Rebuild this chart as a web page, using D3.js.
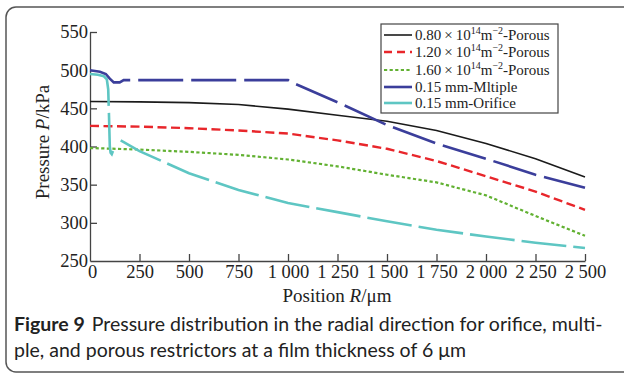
<!DOCTYPE html>
<html>
<head>
<meta charset="utf-8">
<script src="https://cdn.jsdelivr.net/npm/d3@7"></script>
<title>Figure 9</title>
<style>
body { margin: 0; background: #fff; }
text { font-family: "Liberation Serif", "Times New Roman", serif; fill: #222; }
.caption { font-family: Lato, "Noto Sans", sans-serif; font-size: 19.5px; fill: #222; }
</style>
</head>
<body>
<script>

// data: [position R (um), pressure P (kPa)]
var porous080 = [[0,459],[250,458.5],[500,457.5],[750,455],[1000,449],[1250,441],[1500,433],[1750,421],[2000,404],[2250,384],[2500,360]];
var porous120 = [[0,427],[250,426],[500,424],[750,421],[1000,417],[1250,408],[1500,397],[1750,381],[2000,361],[2250,341],[2500,317]];
var porous160 = [[0,398],[250,396],[500,393],[750,389],[1000,383],[1250,374],[1500,363],[1750,353],[2000,336],[2250,309],[2500,283]];
var multiple  = [[0,500],[50,498],[80,495],[100,489],[120,484],[150,484],[170,487],[1000,487],[1010,485],[1250,458],[1500,428],[1750,404],[2000,384],[2250,363],[2500,346]];
var orifice   = [[0,495],[40,494],[70,492],[85,488],[92,475],[96,440],[100,400],[104,392],[110,390],[125,400],null,
                 [155,408],[250,394],[500,365],[750,343],[1000,326],[1250,314],[1500,302],[1750,291],[2000,282],[2250,274],[2500,267]];

var xTicks = [0,250,500,750,1000,1250,1500,1750,2000,2250,2500];
var yTicks = [250,300,350,400,450,500,550];

var seriesNames = ["p080","p120","p160","mult","orif"];

var width = 624,
    height = 376;

var svg = d3.select("body")
  .append("svg")
  .attr("width", width)
  .attr("height", height);

// frame round figure and caption
svg.append("rect")
  .attr("x", 6).attr("y", 7)
  .attr("width", 640).attr("height", 365)
  .attr("rx", 10)
  .attr("fill", "none")
  .attr("stroke", "#555")
  .attr("stroke-width", 1.5);

var x = d3.scaleLinear().domain([0, 2500]).range([90, 585]);
var y = d3.scaleLinear().domain([250, 550]).range([261, 32]);

var fmt = d3.formatLocale({decimal: ".", thousands: " ", grouping: [3], currency: ["", ""]}).format(",");

var xAxis = svg.append("g")
  .attr("transform", "translate(0,261)")
  .call(d3.axisBottom(x).tickValues(xTicks).tickFormat(fmt)
    .tickSizeInner(-7).tickSizeOuter(0).tickPadding(4));

var yAxis = svg.append("g")
  .attr("transform", "translate(90,0)")
  .call(d3.axisLeft(y).tickValues(yTicks).tickSizeInner(-7).tickSizeOuter(0).tickPadding(2));

[xAxis, yAxis].forEach(function(a) {
  a.selectAll("text").attr("font-family", null).attr("font-size", 18.5).attr("fill", "#222");
  a.selectAll("line, path").attr("stroke", "#444").attr("stroke-width", 1.3);
});
xAxis.selectAll(".tick").filter(function(d) { return d === 0; }).select("line").remove();
xAxis.selectAll(".tick").filter(function(d) { return d === 0; }).select("text").attr("dx", 2);
yAxis.selectAll(".tick").filter(function(d) { return d === 250; }).select("line").remove();

// axis titles
var xt = svg.append("text").attr("x", 337).attr("y", 302).attr("text-anchor", "middle").attr("font-size", 19);
xt.append("tspan").text("Position ");
xt.append("tspan").attr("font-style", "italic").text("R");
xt.append("tspan").text("/\u03bcm");

var yt = svg.append("text").attr("transform", "translate(49,142) rotate(-90)").attr("text-anchor", "middle").attr("font-size", 19);
yt.append("tspan").text("Pressure ");
yt.append("tspan").attr("font-style", "italic").text("P");
yt.append("tspan").text("/kPa");

var styles = {
  p080: {data: porous080, color: "#1b1b1b", w: 1.6, dash: null},
  p120: {data: porous120, color: "#e8262b", w: 2.4, dash: "9,4.5"},
  p160: {data: porous160, color: "#62b132", w: 2.2, dash: "3.2,2.4"},
  mult: {data: multiple,  color: "#3b3e9b", w: 2.6, dash: "45,8"},
  orif: {data: orifice,   color: "#5ec6c3", w: 2.6, dash: "45,7"}
};

var line = d3.line()
  .defined(function(d) { return d !== null; })
  .x(function(d) { return x(d[0]); })
  .y(function(d) { return y(d[1]); });

svg.append("g").selectAll("path")
  .data(["p160","p120","p080","orif","mult"])
  .enter()
  .append("path")
  .attr("fill", "none")
  .attr("stroke", function(k) { return styles[k].color; })
  .attr("stroke-width", function(k) { return styles[k].w; })
  .attr("stroke-dasharray", function(k) { return styles[k].dash; })
  .attr("d", function(k) { return line(styles[k].data); });

// legend
var legend = svg.append("g");
legend.append("rect")
  .attr("x", 381).attr("y", 24).attr("width", 177).attr("height", 89)
  .attr("fill", "#fff").attr("stroke", "#444").attr("stroke-width", 1.2);

var legendY = [35, 52, 70, 87, 103];
var legendLabels = [
  ["0.80", "14", "\u22122", "-Porous"],
  ["1.20", "14", "\u22122", "-Porous"],
  ["1.60", "14", "\u22122", "-Porous"],
  "0.15 mm-Mltiple",
  "0.15 mm-Orifice"
];

seriesNames.forEach(function(k, i) {
  var s = styles[k];
  legend.append("line")
    .attr("x1", 384).attr("x2", 412)
    .attr("y1", legendY[i]).attr("y2", legendY[i])
    .attr("stroke", s.color).attr("stroke-width", s.w)
    .attr("stroke-dasharray", k === "p120" ? "8,5" : (k === "p160" ? "3.2,2.4" : null));
  var t = legend.append("text").attr("x", 415).attr("y", legendY[i] + 5).attr("font-size", 15);
  var lab = legendLabels[i];
  if (typeof lab === "string") {
    t.text(lab);
  } else {
    t.append("tspan").text(lab[0] + "\u2009\u00d7\u200910");
    t.append("tspan").attr("font-size", 10).attr("dy", -6).text(lab[1]);
    t.append("tspan").attr("dy", 6).text("m");
    t.append("tspan").attr("font-size", 10).attr("dy", -6).text(lab[2]);
    t.append("tspan").attr("dy", 6).text(lab[3]);
  }
});

// caption
var c1 = svg.append("text").attr("class", "caption").attr("x", 14).attr("y", 331);
c1.append("tspan").attr("font-weight", "bold").text("Figure 9");
c1.append("tspan").attr("dx", 7).text("Pressure distribution in the radial direction for orifice, multi-");
svg.append("text").attr("class", "caption").attr("x", 14).attr("y", 357)
  .text("ple, and porous restrictors at a film thickness of 6 \u03bcm");

</script>
</body>
</html>
